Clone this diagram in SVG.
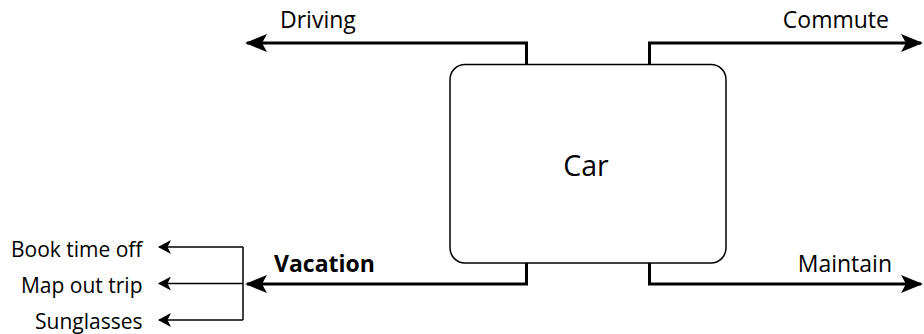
<svg xmlns="http://www.w3.org/2000/svg" width="924" height="334" viewBox="0 0 924 334">
  <style>
    .lbl { font-family: "Open Sans", "Liberation Sans", Arial, sans-serif; font-size: 23px; fill: #000; }
    .bold { font-weight: bold; }
    .small { font-size: 21px; }
    .main { fill: none; stroke: #000; stroke-width: 3; stroke-linejoin: miter; }
    .thin { fill: none; stroke: #000; stroke-width: 1.5; }
    .node { fill: #fff; stroke: #000; stroke-width: 1.5; }
  </style>
  <defs>
    <marker id="bigHead" viewBox="0 0 22 18" refX="20" refY="9" markerWidth="22" markerHeight="18" markerUnits="userSpaceOnUse" orient="auto">
      <path d="M0,0 L22,9 L0,18 L5,9 Z" fill="#000"/>
    </marker>
    <marker id="smallHead" viewBox="0 0 13 14" refX="12" refY="7" markerWidth="13" markerHeight="14" markerUnits="userSpaceOnUse" orient="auto">
      <path d="M0,0 L13,7 L0,14 L3.5,7 Z" fill="#000"/>
    </marker>
  </defs>
  <rect width="924" height="334" fill="#fff"/>

  <g id="connectors">
    <path class="main" d="M526.5,64 V43 H247" marker-end="url(#bigHead)"/>
    <path class="main" d="M649.5,64 V43 H921" marker-end="url(#bigHead)"/>
    <path class="main" d="M526.5,263 V284 H247" marker-end="url(#bigHead)"/>
    <path class="main" d="M649.5,263 V284 H921" marker-end="url(#bigHead)"/>
    <path class="thin" d="M243,247 V320"/>
    <path class="thin" d="M243,247 H159" marker-end="url(#smallHead)"/>
    <path class="thin" d="M243,283.5 H159" marker-end="url(#smallHead)"/>
    <path class="thin" d="M243,320 H159" marker-end="url(#smallHead)"/>
  </g>

  <g id="car">
    <rect class="node" x="450" y="64.5" width="276" height="198.5" rx="15" ry="15"/>
    <text class="lbl" x="586" y="176" text-anchor="middle" style="font-size:28.5px">Car</text>
  </g>

  <g id="driving">
    <text class="lbl" x="280" y="28">Driving</text>
  </g>
  <g id="commute">
    <text class="lbl" x="889" y="28" text-anchor="end">Commute</text>
  </g>
  <g id="vacation">
    <text class="lbl bold" x="274" y="272">Vacation</text>
  </g>
  <g id="maintain">
    <text class="lbl" x="892" y="272" text-anchor="end">Maintain</text>
  </g>
  <g id="book-time-off">
    <text class="lbl small" x="142.5" y="256.5" text-anchor="end">Book time off</text>
  </g>
  <g id="map-out-trip">
    <text class="lbl small" x="142.5" y="292.5" text-anchor="end">Map out trip</text>
  </g>
  <g id="sunglasses">
    <text class="lbl small" x="142.5" y="329" text-anchor="end">Sunglasses</text>
  </g>
</svg>
